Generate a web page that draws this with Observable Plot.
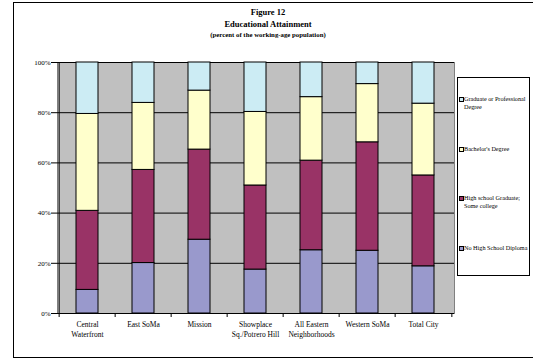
<!DOCTYPE html>
<html><head><meta charset="utf-8">
<script src="https://cdn.jsdelivr.net/npm/d3@7"></script>
<script src="https://cdn.jsdelivr.net/npm/@observablehq/plot@0.6"></script>
<style>
body{margin:0;background:#fff;font-family:"Liberation Serif","Times New Roman",serif;}
#wrap{position:relative;width:533px;height:360px;overflow:hidden;background:#fff;}
#frame{position:absolute;left:13px;top:2px;width:530px;height:356px;border:1px solid #000;box-sizing:border-box;}
#chart{position:absolute;left:0;top:0;}
.t{position:absolute;left:13px;width:510px;text-align:center;font-weight:bold;color:#000;white-space:nowrap;}
#t1{top:7px;font-size:8.5px;}
#t2{top:19px;font-size:8.5px;}
#t3{top:31px;font-size:6.8px;}
#legend{position:absolute;left:457px;top:77px;width:73px;height:199px;border:1px solid #000;box-sizing:border-box;background:#fff;padding-top:17px;}
.item{height:49.6px;position:relative;font-size:6.2px;line-height:8px;color:#000;}
.sw{position:absolute;left:1px;top:2px;width:3px;height:3px;border:1px solid #000;}
.lab{position:absolute;left:6px;top:0;white-space:pre;}
</style></head><body>
<div id="wrap">
  <div id="frame"></div>
  <div id="chart"></div>
  <div class="t" id="t1">Figure 12</div>
  <div class="t" id="t2">Educational Attainment</div>
  <div class="t" id="t3">(percent of the working-age population)</div>
  <div id="legend"></div>
</div>
<script>
const neighborhoods = ["Central Waterfront","East SoMa","Mission","Showplace Sq./Potrero Hill","All Eastern Neighborhoods","Western SoMa","Total City"];
const tickLabels = ["Central\nWaterfront","East SoMa","Mission","Showplace\nSq./Potrero Hill","All Eastern\nNeighborhoods","Western SoMa","Total City"];
const levels = ["No High School Diploma","High school Graduate; Some college","Bachelor's Degree","Graduate or Professional Degree"];
const legendLabels = ["No High School Diploma","High school Graduate;\nSome college","Bachelor's Degree","Graduate or Professional\nDegree"];
const noHighSchool = [9.4,20.1,29.4,17.5,25.2,25.0,18.8];
const highSchoolSomeCollege = [31.5,37.1,35.9,33.5,35.7,43.2,36.2];
const bachelors = [38.6,26.7,23.5,29.3,25.3,23.2,28.6];
const graduate = [20.5,16.1,11.2,19.7,13.8,8.6,16.4];
const colors = ["#9999cc","#993366","#ffffcc","#ccecf4"];
const yTicks = [0,20,40,60,80,100];

const series = [noHighSchool, highSchoolSomeCollege, bachelors, graduate];
const rows = neighborhoods.flatMap((n,i)=>series.map((s,j)=>({n, level: levels[j], v: s[i]})));

const W=533, H=360, ml=57, mr=79, mt=62, mb=47;
const step=(W-ml-mr)/neighborhoods.length;

const chart = Plot.plot({
  width: W, height: H,
  marginLeft: ml, marginRight: mr, marginTop: mt, marginBottom: mb,
  style: {fontFamily: '"Liberation Serif","Times New Roman",serif', background: "transparent", color: "#000", overflow: "visible"},
  x: {domain: neighborhoods, paddingInner: 0.6, paddingOuter: 0.3, label: null},
  y: {domain: [0,100], label: null},
  color: {domain: levels, range: colors},
  marks: [
    Plot.frame({fill: "#c0c0c0", stroke: "#808080"}),
    Plot.ruleY(yTicks, {stroke: "#000", strokeWidth: 1}),
    Plot.barY(rows, {x: "n", y: "v", fill: "level", stroke: "#000", strokeWidth: 1, order: levels}),
    Plot.ruleX([neighborhoods[0]], {y1: 0, y2: 100, dx: -step/2, stroke: "#000"}),
    Plot.ruleX(neighborhoods, {y1: 0, y2: 0, dx: -step/2, insetBottom: -4, stroke: "#000"}),
    Plot.ruleX([neighborhoods[neighborhoods.length-1]], {y1: 0, y2: 0, dx: step/2, insetBottom: -4, stroke: "#000"}),
    Plot.axisY({ticks: yTicks, tickFormat: d => d + "%", tickSize: 6, tickPadding: 1, fontSize: 7, stroke: "#000", label: null}),
    Plot.axisX({tickFormat: d => tickLabels[neighborhoods.indexOf(d)], tickSize: 0, tickPadding: 7, fontSize: 7.5, lineHeight: 1.3, label: null})
  ]
});
document.getElementById("chart").appendChild(chart);

const leg = document.getElementById("legend");
for (let j = levels.length - 1; j >= 0; j--) {
  const it = document.createElement("div"); it.className = "item";
  const sw = document.createElement("div"); sw.className = "sw"; sw.style.background = colors[j];
  const lb = document.createElement("div"); lb.className = "lab"; lb.textContent = legendLabels[j];
  it.appendChild(sw); it.appendChild(lb); leg.appendChild(it);
}
</script>
</body></html>
